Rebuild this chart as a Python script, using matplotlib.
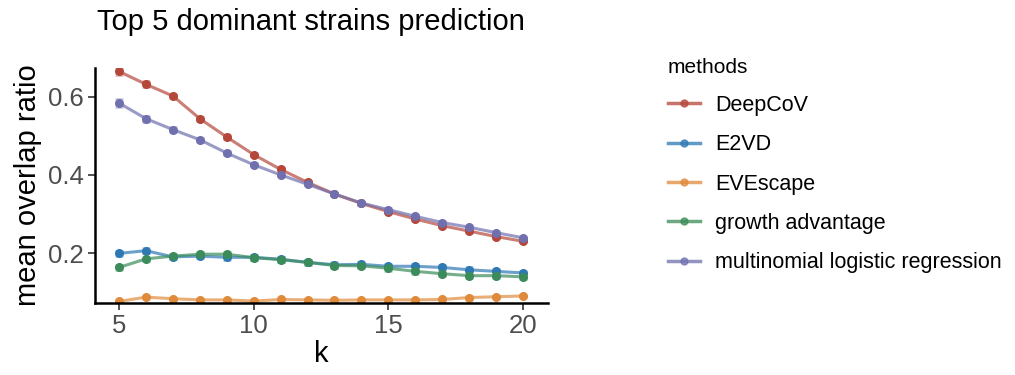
import matplotlib.pyplot as plt
import numpy as np
from matplotlib.lines import Line2D

plt.rcParams['font.family'] = ['Liberation Sans', 'DejaVu Sans']

k = np.arange(5, 21)

methods = ['DeepCoV', 'E2VD', 'EVEscape', 'growth advantage',
           'multinomial logistic regression']
colors = ['#B5473A', '#2E78B4', '#E08A3C', '#3B8C5A', '#7070AE']

deepcov = [0.665, 0.632, 0.602, 0.544, 0.497, 0.452, 0.414, 0.381,
           0.351, 0.327, 0.306, 0.287, 0.270, 0.256, 0.242, 0.230]
e2vd = [0.199, 0.206, 0.190, 0.192, 0.189, 0.189, 0.184, 0.176,
        0.170, 0.171, 0.166, 0.166, 0.163, 0.157, 0.153, 0.149]
evescape = [0.076, 0.087, 0.083, 0.080, 0.080, 0.077, 0.081, 0.080,
            0.079, 0.080, 0.080, 0.080, 0.081, 0.086, 0.088, 0.090]
growth = [0.163, 0.185, 0.192, 0.197, 0.197, 0.188, 0.183, 0.176,
          0.168, 0.167, 0.161, 0.153, 0.147, 0.142, 0.142, 0.139]
mlr = [0.584, 0.544, 0.516, 0.490, 0.456, 0.426, 0.400, 0.376,
       0.351, 0.328, 0.311, 0.294, 0.278, 0.266, 0.252, 0.239]

# standard errors (small)
deepcov_se = [0.010, 0.008, 0.006, 0.005, 0.004, 0.004, 0.004, 0.003,
              0.003, 0.003, 0.003, 0.003, 0.003, 0.003, 0.003, 0.003]
mlr_se = [0.010, 0.008, 0.006, 0.005, 0.004, 0.004, 0.004, 0.003,
          0.003, 0.003, 0.003, 0.003, 0.003, 0.003, 0.003, 0.003]
small_se = [0.006] * 16
orange_se = [0.003] * 16

series = [deepcov, e2vd, evescape, growth, mlr]
errors = [deepcov_se, small_se, orange_se, small_se, mlr_se]

fig = plt.figure(figsize=(10.15, 3.75), dpi=100)
ax = fig.add_axes([0.0936, 0.192, 0.4464, 0.627])

for name, vals, err, c in zip(methods, series, errors, colors):
    ax.errorbar(k, vals, yerr=err, fmt='none', ecolor=c, alpha=0.35,
                elinewidth=3, capsize=3, capthick=2)
    ax.plot(k, vals, color=c, lw=2.2, alpha=0.7)
    ax.plot(k, vals, 'o', color=c, ms=5.5, label=name)

ax.set_xlim(4.11, 20.93)
ax.set_ylim(0.072, 0.674)
ax.set_xticks([5, 10, 15, 20])
ax.set_yticks([0.2, 0.4, 0.6])
ax.set_yticklabels(['0.2', '0.4', '0.6'])
ax.tick_params(axis='both', labelsize=18.5, labelcolor='#4d4d4d',
               color='#333333', length=5, width=1.2, pad=3)
for s in ['top', 'right']:
    ax.spines[s].set_visible(False)
for s in ['left', 'bottom']:
    ax.spines[s].set_linewidth(1.8)
    ax.spines[s].set_color('black')

ax.set_xlabel('k', fontsize=21, labelpad=1)
ax.set_ylabel('mean overlap ratio', fontsize=21, labelpad=4)
ax.set_title('Top 5 dominant strains prediction', fontsize=21, loc='left',
             pad=27, x=0.005)

handles = [Line2D([0], [0], color=c, lw=2.5, alpha=0.75, marker='o', ms=5,
                  markerfacecolor=c, markeredgecolor=c) for c in colors]
leg = fig.legend(handles, methods, title='methods', loc='upper left',
                 bbox_to_anchor=(0.639, 0.898), frameon=False, fontsize=15.5,
                 title_fontsize=15, handlelength=1.5, labelspacing=0.85,
                 handletextpad=0.7, alignment='left')

fig.savefig('out.png', dpi=100)
